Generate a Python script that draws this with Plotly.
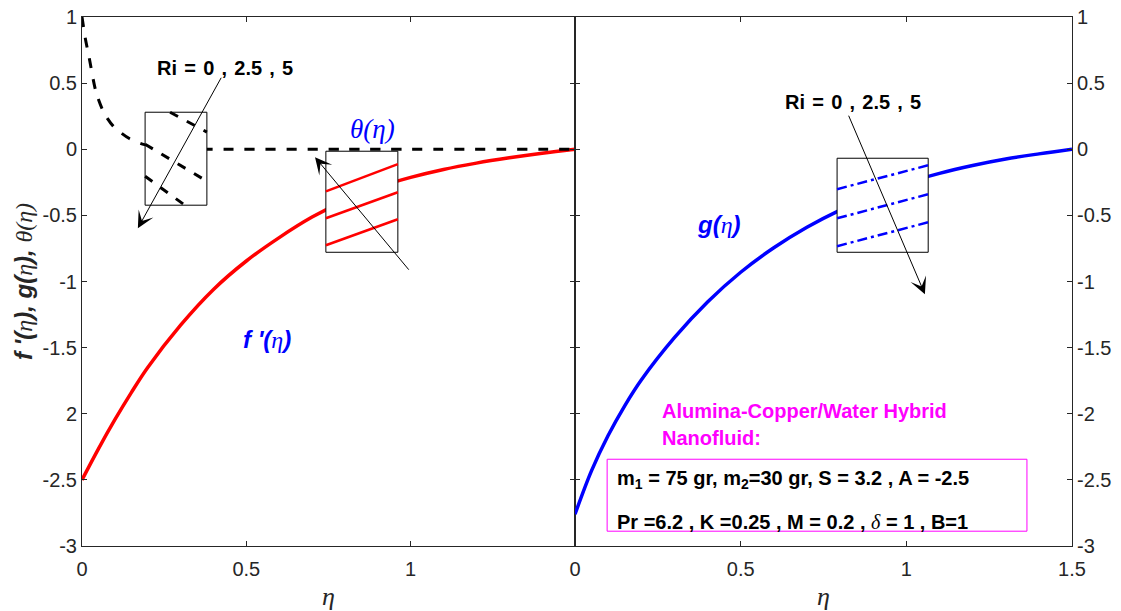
import plotly.graph_objects as go

# ---------------- profiles ----------------
eta_f = [0, 0.05, 0.1, 0.15, 0.2, 0.3, 0.4, 0.5, 0.6, 0.7, 0.8, 0.9, 1.0, 1.1, 1.2, 1.3, 1.4, 1.5]
f_prime = [-2.5, -2.265, -2.045, -1.84, -1.65, -1.33, -1.06, -0.845, -0.668, -0.513,
           -0.388, -0.288, -0.213, -0.153, -0.105, -0.065, -0.03, 0.0]

eta_theta = [0, 0.01, 0.022, 0.043, 0.067, 0.095, 0.144, 0.19, 0.25, 0.3, 0.4, 0.8, 1.5]
theta = [1.0, 0.84, 0.69, 0.43, 0.275, 0.175, 0.081, 0.035, 0.012, 0.004, 0.0, 0.0, 0.0]

eta_g = [0, 0.05, 0.1, 0.15, 0.2, 0.3, 0.4, 0.5, 0.6, 0.7, 0.8, 0.9, 1.0, 1.1, 1.2, 1.3, 1.4, 1.5]
g_vals = [-2.76, -2.43, -2.165, -1.94, -1.745, -1.425, -1.155, -0.93, -0.745, -0.59,
          -0.46, -0.352, -0.255, -0.182, -0.123, -0.074, -0.035, 0.0]

# ---------------- magnified windows (Ri = 0, 2.5, 5) ----------------
theta_box_x = [0.192, 0.380]
theta_box_y = [-0.423, 0.28]
theta_zoom = [
    ([0.268, 0.380], [0.28, 0.13]),
    ([0.192, 0.380], [0.038, -0.242]),
    ([0.192, 0.313], [-0.204, -0.423]),
]

f_box_x = [0.742, 0.961]
f_box_y = [-0.779, -0.015]
f_zoom_x = [0.742, 0.961]
f_zoom_y = [[-0.318, -0.113], [-0.522, -0.325], [-0.726, -0.529]]

g_box_x = [0.791, 1.066]
g_box_y = [-0.779, -0.068]
g_zoom_x = [0.791, 1.066]
g_zoom_y = [[-0.302, -0.121], [-0.522, -0.340], [-0.733, -0.552]]

# ---------------- ticks ----------------
y_vals = [-3, -2.5, -2, -1.5, -1, -0.5, 0, 0.5, 1]
y_text_left = ['-3', '-2.5', '2', '-1.5', '-1', '-0.5', '0', '0.5', '1']
y_text_right = ['-3', '-2.5', '-2', '-1.5', '-1', '-0.5', '0', '0.5', '1']
x_vals_left = [0, 0.5, 1]
x_vals_right = [0, 0.5, 1, 1.5]

SANS = "Liberation Sans, Arial, sans-serif"
SERIF = "Liberation Serif, Times New Roman, serif"
AX = "#262626"
BLUE = "#0000FF"
RED = "#FF0000"
MAG = "#FF00FF"
SP = "\u00a0\u200a"


def box_path(bx, by):
    return ([bx[0], bx[1], bx[1], bx[0], bx[0]],
            [by[0], by[0], by[1], by[1], by[0]])


def eta_span(s="η"):
    return f'<span style="font-family:{SERIF}"><i>{s}</i></span>'


fig = go.Figure()

# left panel: f'(η) with its window
fig.add_trace(go.Scatter(x=eta_f, y=f_prime, mode="lines", line_shape="spline",
                         line=dict(color=RED, width=3.5, smoothing=1.0), xaxis="x", yaxis="y"))
bx, by = box_path(f_box_x, f_box_y)
fig.add_trace(go.Scatter(x=bx, y=by, mode="lines", fill="toself", fillcolor="white",
                         line=dict(color="black", width=1), xaxis="x", yaxis="y"))
for yy in f_zoom_y:
    fig.add_trace(go.Scatter(x=f_zoom_x, y=yy, mode="lines",
                             line=dict(color=RED, width=2.5), xaxis="x", yaxis="y"))

# left panel: θ(η) with its window
fig.add_trace(go.Scatter(x=eta_theta, y=theta, mode="lines", line_shape="spline",
                         line=dict(color="black", width=3, dash="10px,11px", smoothing=0.8),
                         xaxis="x", yaxis="y"))
bx, by = box_path(theta_box_x, theta_box_y)
fig.add_trace(go.Scatter(x=bx, y=by, mode="lines", fill="toself", fillcolor="white",
                         line=dict(color="black", width=1), xaxis="x", yaxis="y"))
for xx, yy in theta_zoom:
    fig.add_trace(go.Scatter(x=xx, y=yy, mode="lines",
                             line=dict(color="black", width=3, dash="9px,10px"),
                             xaxis="x", yaxis="y"))

# right panel: g(η) with its window
fig.add_trace(go.Scatter(x=eta_g, y=g_vals, mode="lines", line_shape="spline",
                         line=dict(color=BLUE, width=3.5, smoothing=1.0), xaxis="x2", yaxis="y2"))
bx, by = box_path(g_box_x, g_box_y)
fig.add_trace(go.Scatter(x=bx, y=by, mode="lines", fill="toself", fillcolor="white",
                         line=dict(color="black", width=1), xaxis="x2", yaxis="y2"))
for yy in g_zoom_y:
    fig.add_trace(go.Scatter(x=g_zoom_x, y=yy, mode="lines",
                             line=dict(color=BLUE, width=2.5, dash="10px,4px,3px,4px"),
                             xaxis="x2", yaxis="y2"))

fig.update_traces(hoverinfo="skip", showlegend=False)

axis_common = dict(
    showline=True, linecolor=AX, linewidth=1, mirror="allticks", automargin=False,
    ticks="inside", ticklen=5, tickcolor=AX, tickwidth=1, showgrid=False,
    zeroline=False, tickfont=dict(family=SANS, size=20, color=AX),
)
x_title = dict(text="<i>η</i>", font=dict(family=SERIF, size=26, color=AX), standoff=8)

split = 493 / 990
fig.update_layout(
    width=1121, height=611,
    margin=dict(l=82, r=49, t=17, b=65),
    paper_bgcolor="white", plot_bgcolor="white",
    showlegend=False,
    xaxis=dict(axis_common, domain=[0, split], range=[0, 1.5], anchor="y",
               tickvals=x_vals_left, ticklabelstandoff=5, title=x_title),
    xaxis2=dict(axis_common, domain=[split, 1], range=[0, 1.5], anchor="y2",
                tickvals=x_vals_right, ticklabelstandoff=5, title=x_title),
    yaxis=dict(axis_common, domain=[0, 1], range=[-3, 1], anchor="x",
               tickvals=y_vals, ticktext=y_text_left,
               title=dict(text=("<b><i>f '(</i></b>" + eta_span() + "<b><i>), g(</i></b>"
                                + eta_span() + "<b><i>), </i></b>" + eta_span("θ(η)")),
                          font=dict(family=SANS, size=24, color=AX), standoff=3)),
    yaxis2=dict(axis_common, domain=[0, 1], range=[-3, 1], anchor="x2", side="right",
                tickvals=y_vals, ticktext=y_text_right),
)

ann = []
arrow_style = dict(showarrow=True, arrowhead=3, arrowsize=2.8, arrowwidth=1,
                   arrowcolor="black", standoff=0, startstandoff=0, text="")
# Ri arrows: (tail_x, tail_y) -> (head_x, head_y)
ann.append(dict(arrow_style, xref="x", yref="y", axref="x", ayref="y",
                ax=0.426, ay=0.552, x=0.170, y=-0.597))
ann.append(dict(arrow_style, xref="x", yref="y", axref="x", ayref="y",
                ax=0.998, ay=-0.922, x=0.709, y=-0.06))
ann.append(dict(arrow_style, xref="x2", yref="y2", axref="x2", ayref="y2",
                ax=0.824, ay=0.265, x=1.056, y=-1.096))

ri_text = "<b>Ri" + SP + "=" + SP + "0" + SP + "," + SP + "2.5" + SP + "," + SP + "5</b>"
ann.append(dict(xref="x", yref="y", x=0.435, y=0.612, text=ri_text, showarrow=False,
                font=dict(family=SANS, size=20, color="black")))
ann.append(dict(xref="x2", yref="y2", x=0.838, y=0.359, text=ri_text, showarrow=False,
                font=dict(family=SANS, size=20, color="black")))

# curve labels
ann.append(dict(xref="x", yref="y", x=0.884, y=0.15, showarrow=False,
                text="<i>θ(η)</i>", font=dict(family=SERIF, size=27, color=BLUE)))
ann.append(dict(xref="x", yref="y", x=0.563, y=-1.44, showarrow=False,
                text="<b><i>f '(</i></b>" + eta_span() + "<b><i>)</i></b>",
                font=dict(family=SANS, size=24, color=BLUE)))
ann.append(dict(xref="x2", yref="y2", x=0.435, y=-0.567, showarrow=False,
                text="<b><i>g(</i></b>" + eta_span() + "<b><i>)</i></b>",
                font=dict(family=SANS, size=24, color=BLUE)))

# fluid description
ann.append(dict(xref="x2", yref="y2", x=0.256, y=-1.98, xanchor="left", showarrow=False,
                text="<b>Alumina-Copper/Water Hybrid</b>",
                font=dict(family=SANS, size=20, color=MAG)))
ann.append(dict(xref="x2", yref="y2", x=0.256, y=-2.18, xanchor="left", showarrow=False,
                text="<b>Nanofluid:</b>",
                font=dict(family=SANS, size=20, color=MAG)))
ann.append(dict(xref="x2", yref="y2", x=0.12, y=-2.50, xanchor="left", showarrow=False,
                text="<b>m<sub>1</sub> = 75 gr, m<sub>2</sub>=30 gr, S = 3.2 , A = -2.5</b>",
                font=dict(family=SANS, size=20, color="black")))
ann.append(dict(xref="x2", yref="y2", x=0.12, y=-2.82, xanchor="left", showarrow=False,
                text=("<b>Pr =6.2 , K =0.25 , M = 0.2 , </b>"
                      '<span style="font-family:' + SERIF + '"><i>δ</i></span>'
                      "<b> = 1 , B=1</b>"),
                font=dict(family=SANS, size=20, color="black")))

fig.update_layout(annotations=ann)
fig.add_shape(type="rect", xref="x2", yref="y2", x0=0.097, x1=1.364, y0=-2.888, y1=-2.344,
              line=dict(color=MAG, width=1), fillcolor="rgba(0,0,0,0)")

fig.write_html("out.html")
